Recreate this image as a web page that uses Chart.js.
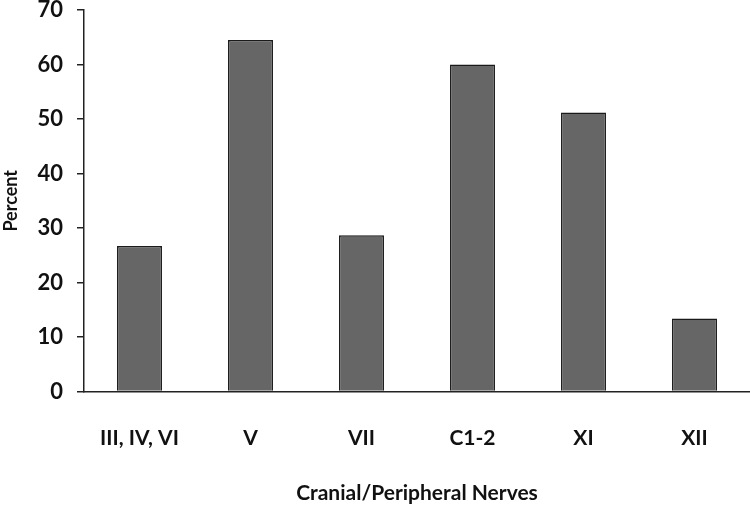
<!DOCTYPE html>
<html>
<head>
<meta charset="utf-8">
<script src="https://cdn.jsdelivr.net/npm/chart.js@4/dist/chart.umd.min.js"></script>
<style>
  html, body { margin: 0; padding: 0; background: #fff; }
  #wrap { width: 750px; height: 506px; }
</style>
</head>
<body>
<div id="wrap"><canvas id="chartNerves" width="750" height="506"></canvas></div>
<script>
// values
const nerves = ['III, IV, VI', 'V', 'VII', 'C1-2', 'XI', 'XII'];
const percent = [26.7, 64.5, 28.7, 60, 51.2, 13.4];
const yTicks = [0, 10, 20, 30, 40, 50, 60, 70];

const font = 'Lato, "Open Sans", sans-serif';

let ctx = document.getElementById('chartNerves').getContext('2d');

let chart = new Chart(ctx, {
	type: 'bar',
	data: {
		labels: nerves,
		datasets: [
			{
				label: 'Percent',
				data: percent,
				backgroundColor: '#666666',
				borderColor: '#1a1a1a',
				borderWidth: 1.5,
				categoryPercentage: 1,
				barPercentage: 0.405,
			},
		],
	},
	options: {
		responsive: false,
		animation: false,
		layout: { padding: { top: 10, right: 0, bottom: 0, left: 0 } },
		plugins: {
			legend: { display: false },
			tooltip: { enabled: false },
		},
		scales: {
			x: {
				grid: { display: false },
				border: { display: true, color: '#222', width: 1.5 },
				ticks: {
					color: '#111',
					padding: 26,
					maxRotation: 0,
					font: { family: font, size: 21, weight: 'bold' },
				},
				title: {
					display: true,
					text: 'Cranial/Peripheral Nerves',
					color: '#111',
					padding: { top: 4, bottom: 0 },
					font: { family: font, size: 21, weight: 'bold' },
				},
			},
			y: {
				min: 0,
				max: 70,
				afterBuildTicks: function (axis) {
					axis.ticks = yTicks.map(function (v) { return { value: v }; });
				},
				afterFit: function (axis) {
					axis.width = 84;
					axis.paddingTop = 0;
				},
				grid: {
					drawOnChartArea: false,
					drawTicks: true,
					tickLength: 7,
					color: '#222',
					lineWidth: 1.5,
				},
				border: { display: true, color: '#222', width: 1.5 },
				ticks: {
					color: '#111',
					padding: 14,
					font: { family: font, size: 22, weight: 'bold' },
				},
				title: {
					display: true,
					text: 'Percent',
					color: '#111',
					padding: { top: 0, bottom: 0 },
					font: { family: font, size: 18, weight: 'bold' },
				},
			},
		},
	},
});
</script>
</body>
</html>
